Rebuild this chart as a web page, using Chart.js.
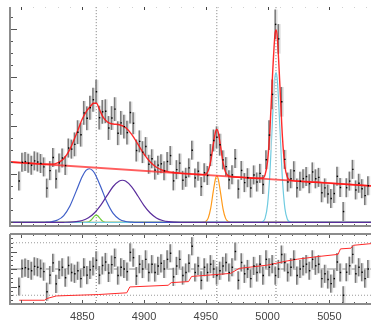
<!DOCTYPE html>
<html>
<head>
<meta charset="utf-8">
<script src="https://cdn.jsdelivr.net/npm/chart.js@4.4.0/dist/chart.umd.min.js"></script>
<style>
  html, body { margin: 0; padding: 0; background: #fff; width: 375px; height: 322px; overflow: hidden; }
  #fit { position: absolute; left: 0; top: 0; }
  #resid { position: absolute; left: 0; top: 230px; }
</style>
</head>
<body>
<canvas id="fit" width="375" height="230"></canvas>
<canvas id="resid" width="375" height="110"></canvas>
<script>
// --- Axis ranges / ticks ---
const X_MIN = 4791.5, X_MAX = 5083.7;
const X_TICKS = [4850, 4900, 4950, 5000, 5050];
const LINE_CENTERS = [4861.3, 4958.9, 5006.8];

// --- Binned spectrum (wavelength, flux, 1-sigma error) ---
const WAVE = [4799, 4801.5, 4804, 4806.5, 4809, 4811.5, 4814, 4816.5, 4819, 4821.5,
  4824, 4826.5, 4829, 4831.5, 4834, 4836.5, 4839, 4841.5, 4844, 4846.5,
  4849, 4851.5, 4854, 4856.5, 4859, 4861.5, 4864, 4866.5, 4869, 4871.5,
  4874, 4876.5, 4879, 4881.5, 4884, 4886.5, 4889, 4891.5, 4894, 4896.5,
  4899, 4901.5, 4904, 4906.5, 4909, 4911.5, 4914, 4916.5, 4919, 4921.5,
  4924, 4926.5, 4929, 4931.5, 4934, 4936.5, 4939, 4941.5, 4944, 4946.5,
  4949, 4951.5, 4954, 4956.5, 4959, 4961.5, 4964, 4966.5, 4969, 4971.5,
  4974, 4976.5, 4979, 4981.5, 4984, 4986.5, 4989, 4991.5, 4994, 4996.5,
  4999, 5001.5, 5004, 5006.5, 5009, 5011.5, 5014, 5016.5, 5019, 5021.5,
  5024, 5026.5, 5029, 5031.5, 5034, 5036.5, 5039, 5041.5, 5044, 5046.5,
  5049, 5051.5, 5054, 5056.5, 5059, 5061.5, 5064, 5066.5, 5069, 5071.5,
  5074, 5076.5, 5079, 5081.5];

const FLUX = [0.857, 1.243, 1.258, 1.225, 1.182, 1.273, 1.250, 1.219, 1.148, 0.709,
  1.071, 1.342, 0.899, 1.230, 1.333, 1.175, 1.539, 1.516, 1.615, 1.867,
  1.815, 2.267, 2.155, 2.374, 2.539, 2.705, 2.167, 2.289, 2.301, 1.954,
  2.160, 2.344, 1.846, 2.060, 1.982, 1.858, 2.274, 2.052, 1.487, 1.677,
  1.454, 1.569, 1.202, 1.316, 1.082, 1.184, 1.212, 1.066, 1.260, 1.382,
  0.859, 1.091, 1.227, 0.870, 0.933, 1.128, 1.494, 0.920, 1.059, 0.740,
  1.029, 0.970, 1.394, 1.695, 1.761, 1.608, 1.294, 1.154, 0.880, 0.983,
  1.321, 0.690, 1.075, 0.823, 0.924, 0.711, 0.982, 0.835, 1.014, 0.784,
  1.297, 1.807, 2.650, 4.100, 3.800, 2.497, 1.304, 0.834, 0.903, 1.069,
  0.713, 0.852, 0.905, 0.948, 0.801, 1.044, 0.901, 0.931, 0.613, 0.713,
  0.586, 0.493, 0.596, 0.953, 0.721, 0.223, 0.718, 0.854, 1.097, 0.671,
  0.809, 0.697, 0.554, 0.759];

const FLUX_ERR = [0.19, 0.19, 0.19, 0.19, 0.19, 0.19, 0.19, 0.19, 0.19, 0.19,
  0.19, 0.19, 0.19, 0.19, 0.19, 0.19, 0.19, 0.19, 0.24, 0.24,
  0.24, 0.24, 0.24, 0.24, 0.24, 0.24, 0.24, 0.24, 0.24, 0.24,
  0.24, 0.24, 0.24, 0.24, 0.24, 0.24, 0.22, 0.22, 0.22, 0.22,
  0.22, 0.19, 0.19, 0.19, 0.19, 0.19, 0.19, 0.19, 0.19, 0.19,
  0.19, 0.19, 0.19, 0.19, 0.19, 0.19, 0.19, 0.19, 0.19, 0.19,
  0.19, 0.19, 0.22, 0.22, 0.22, 0.22, 0.19, 0.19, 0.19, 0.19,
  0.19, 0.19, 0.19, 0.19, 0.19, 0.19, 0.19, 0.19, 0.19, 0.19,
  0.19, 0.30, 0.30, 0.30, 0.30, 0.30, 0.19, 0.19, 0.19, 0.19,
  0.19, 0.19, 0.19, 0.19, 0.19, 0.19, 0.19, 0.19, 0.19, 0.19,
  0.19, 0.19, 0.19, 0.19, 0.19, 0.19, 0.19, 0.19, 0.19, 0.19,
  0.19, 0.19, 0.19, 0.19];

// --- Normalised residuals (bottom panel) ---
const RESID = [-2.0, 0.05, 0.15, 0.0, -0.2, 0.3, 0.2, 0.05, -0.3, -2.6,
  -0.7, 0.7, -1.7, -0.1, 0.2, -1.0, 0.4, -0.4, -0.55, -0.2,
  -1.1, 0.2, -0.7, -0.1, 0.3, 1.0, -0.7, 0.4, 0.8, -0.45,
  0.5, 1.3, -0.75, 0.2, 0.0, -0.3, 1.9, 1.3, -0.8, 0.55,
  0.0, 1.1, -0.4, 0.55, -0.4, 0.35, 0.65, 0.0, 1.1, 1.8,
  -0.9, 0.35, 1.1, -0.75, -0.4, 0.65, 2.6, -0.4, 0.35, -1.3,
  0.2, -0.4, 0.55, 0.0, -0.75, -0.2, 0.35, 0.75, -0.4, 0.2,
  2.0, -1.3, 0.75, -0.55, 0.0, -1.1, 0.35, -0.4, 0.55, -0.75,
  1.1, 0.2, 0.55, -0.75, 0.0, 1.65, 0.75, -0.4, 0.2, 1.1,
  -0.75, 0.0, 0.3, 0.55, -0.2, 1.1, 0.37, 0.55, -1.1, -0.55,
  -1.2, -1.67, -1.1, 0.8, -0.4, -3.0, -0.37, 0.37, 1.67, -0.55,
  0.2, -0.37, -1.1, 0.0];
const RESID_ERR = 1;

// --- Cumulative curve drawn in the residual panel [wave, value] ---
const CUMULATIVE = [[4799, -3.57], [4819.5, -3.57], [4821, -3.39], [4829, -3.08], [4845, -3.0],
  [4863, -2.92], [4886, -2.72], [4888.5, -2.05], [4919.5, -1.86], [4922, -1.56],
  [4936, -1.44], [4938.5, -0.85], [4970, -0.5], [4977, 0.07], [4984, 0.18],
  [5000, 0.45], [5015, 0.9], [5024, 1.12], [5040, 1.41], [5057, 1.67],
  [5059, 2.3], [5067.5, 2.38], [5069.5, 2.71], [5083.7, 2.9]];

// --- Fit: total model, continuum and line components [wave, flux] ---
const MODEL = [[4791.5, 1.250], [4800, 1.236], [4810, 1.219], [4815, 1.210], [4820, 1.204],
  [4825, 1.205], [4830, 1.232], [4835, 1.318], [4840, 1.511], [4845, 1.814],
  [4850, 2.139], [4854, 2.323], [4856.5, 2.398], [4859, 2.467], [4861.5, 2.465],
  [4864, 2.335], [4866.5, 2.193], [4869, 2.109], [4871.5, 2.062], [4875, 2.036],
  [4880, 2.022], [4885, 1.965], [4890, 1.822], [4895, 1.620], [4900, 1.414],
  [4905, 1.251], [4910, 1.141], [4915, 1.079], [4920, 1.045], [4925, 1.028],
  [4930, 1.015], [4940, 0.998], [4945, 0.990], [4948, 0.988], [4950, 1.001],
  [4952, 1.071], [4954, 1.273], [4956, 1.608], [4958, 1.890], [4959, 1.926],
  [4960, 1.870], [4962, 1.561], [4964, 1.227], [4966, 1.036], [4968, 0.968],
  [4970, 0.950], [4980, 0.931], [4990, 0.914], [4996, 0.919], [4998, 0.988],
  [5000, 1.269], [5002, 1.969], [5004, 3.05], [5006, 3.897], [5007, 3.986],
  [5008, 3.783], [5010, 2.82], [5012, 1.774], [5014, 1.161], [5016, 0.934],
  [5018, 0.876], [5020, 0.863], [5040, 0.829], [5060, 0.795], [5083.7, 0.755]];

const CONTINUUM = [[4791.5, 1.25], [5083.7, 0.755]];

const HB_BROAD1 = [[4791.5, 0], [4815, 0], [4820, 0.002], [4825, 0.012], [4830, 0.047],
  [4835, 0.141], [4840, 0.339], [4845, 0.641], [4850, 0.949], [4853, 1.075],
  [4855.7, 1.11], [4858, 1.082], [4860, 1.016], [4865, 0.732], [4870, 0.415],
  [4875, 0.185], [4880, 0.065], [4885, 0.018], [4890, 0.004], [4895, 0], [5083.7, 0]];

const HB_BROAD2 = [[4791.5, 0], [4830, 0], [4835, 0.001], [4840, 0.004], [4845, 0.014],
  [4850, 0.039], [4855, 0.095], [4860, 0.198], [4865, 0.356], [4870, 0.553],
  [4875, 0.742], [4880, 0.857], [4882.5, 0.872], [4885, 0.855], [4890, 0.735],
  [4895, 0.545], [4900, 0.348], [4905, 0.193], [4910, 0.092], [4915, 0.038],
  [4920, 0.013], [4925, 0.004], [4930, 0.001], [4935, 0], [5083.7, 0]];

const HB_NARROW = [[4791.5, 0], [4852, 0], [4854, 0.004], [4856, 0.022], [4858, 0.071],
  [4860, 0.134], [4861.3, 0.15], [4862.5, 0.136], [4864, 0.091], [4866, 0.033],
  [4868, 0.007], [4870, 0.001], [4872, 0], [5083.7, 0]];

const OIII_4959 = [[4791.5, 0], [4946, 0], [4948, 0.003], [4950, 0.020], [4952, 0.093],
  [4954, 0.298], [4956, 0.637], [4958, 0.922], [4959, 0.96], [4960, 0.905],
  [4962, 0.600], [4964, 0.269], [4966, 0.082], [4968, 0.017], [4970, 0.002],
  [4972, 0], [5083.7, 0]];

const OIII_5007 = [[4791.5, 0], [4994, 0], [4996, 0.015], [4998, 0.088], [5000, 0.372],
  [5002, 1.075], [5004, 2.16], [5006, 3.01], [5007, 3.10], [5008, 2.90],
  [5010, 1.94], [5012, 0.897], [5014, 0.288], [5016, 0.064], [5018, 0.010],
  [5020, 0.001], [5022, 0], [5083.7, 0]];

// --- helpers ---
const pts = pairs => pairs.map(([x, y]) => ({ x, y }));

function curve(pairs, color, width, extra) {
  return Object.assign({
    type: 'line', data: pts(pairs), borderColor: color, borderWidth: width,
    pointRadius: 0, cubicInterpolationMode: 'monotone', fill: false,
  }, extra || {});
}

function errorBars(values, errs, color, thickness) {
  return {
    type: 'bar',
    data: WAVE.map((w, i) => {
      const e = Array.isArray(errs) ? errs[i] : errs;
      return { x: w, y: [values[i] - e, values[i] + e] };
    }),
    backgroundColor: color, borderWidth: 0, barThickness: thickness,
  };
}

function markers(values) {
  return {
    type: 'scatter', data: WAVE.map((w, i) => ({ x: w, y: values[i] })),
    pointStyle: 'rect', pointRadius: 1, backgroundColor: '#000', borderWidth: 0,
  };
}

function vLines(yLo, yHi) {
  return LINE_CENTERS.map(c => ({
    type: 'line', data: [{ x: c, y: yLo }, { x: c, y: yHi }],
    borderColor: '#7a7a7a', borderWidth: 1, borderDash: [1, 2], pointRadius: 0,
  }));
}

function hLine(v, color, dash) {
  return {
    type: 'line', data: [{ x: X_MIN, y: v }, { x: X_MAX, y: v }],
    borderColor: color, borderWidth: 1, borderDash: dash || [], pointRadius: 0,
  };
}

// --- axis frame with inward ticks ---
const framePlugin = {
  id: 'frame',
  afterDraw(chart, args, o) {
    const { ctx, chartArea: a, scales: { x, y } } = chart;
    const seg = (x1, y1, x2, y2) => { ctx.beginPath(); ctx.moveTo(x1, y1); ctx.lineTo(x2, y2); ctx.stroke(); };
    ctx.save();
    ctx.lineWidth = 1;
    for (let v = 4800; v <= 5080; v += 10) {
      const px = Math.round(x.getPixelForValue(v)) + 0.5;
      const major = v % 50 === 0;
      ctx.strokeStyle = '#555';
      seg(px, a.bottom, px, a.bottom - (major ? 4 : 2));
      if (o.topLine) {
        seg(px, a.top, px, a.top + (major ? 4 : 2));
      } else {
        ctx.strokeStyle = major ? '#444' : '#d0d0d0';
        seg(px, a.top, px, a.top + (major ? 3 : 1));
      }
    }
    ctx.strokeStyle = '#555';
    o.yTicks.forEach(v => {
      const py = Math.round(y.getPixelForValue(v)) + 0.5;
      seg(a.left, py, a.left + (o.yMajor.includes(v) ? 7 : 3), py);
    });
    ctx.strokeStyle = '#8c8c8c';
    ctx.lineWidth = 2;
    seg(a.left, a.top, a.left, a.bottom + 1);
    seg(a.left, a.bottom, a.right, a.bottom);
    if (o.topLine) seg(a.left, a.top, a.right, a.top);
    ctx.restore();
  }
};

const TOP_Y_TICKS = [];
for (let v = 0; v <= 4.25; v += 0.25) TOP_Y_TICKS.push(+v.toFixed(2));
const BOT_Y_TICKS = [];
for (let v = -3.5; v <= 3.5; v += 0.5) BOT_Y_TICKS.push(v);

Chart.defaults.font.family = "'Liberation Sans', Arial, sans-serif";

// --- Top panel: spectrum + fit ---
new Chart(document.getElementById('fit'), {
  type: 'scatter',
  data: {
    datasets: [
      markers(FLUX),
      curve(MODEL, 'rgba(255, 20, 20, 0.9)', 1.4),
      curve(CONTINUUM, 'rgba(255, 40, 40, 0.75)', 1.8, { cubicInterpolationMode: 'default', tension: 0 }),
      errorBars(FLUX, FLUX_ERR, '#7a7a7a', 0.9),
      errorBars(FLUX, FLUX_ERR, '#dedede', 1.6),
      curve(HB_BROAD2, '#5a2d9c', 1.2),
      curve(HB_BROAD1, '#3f5fc8', 1.2),
      curve(OIII_5007, '#6fcbe0', 1.2),
      curve(OIII_4959, '#ff9a1a', 1.2),
      curve(HB_NARROW, '#6ccc3a', 1.2),
      ...vLines(-0.1, 4.5),
    ],
  },
  options: {
    responsive: false, animation: false, events: [], devicePixelRatio: 1,
    layout: { padding: { left: 10, right: 0, top: 7, bottom: 3 } },
    scales: {
      x: { type: 'linear', min: X_MIN, max: X_MAX, offset: false, display: false },
      y: { type: 'linear', min: -0.076, max: 4.46, display: false },
    },
    plugins: {
      legend: { display: false }, tooltip: { enabled: false },
      frame: { topLine: false, yTicks: TOP_Y_TICKS, yMajor: [1, 2, 3, 4] },
    },
  },
  plugins: [framePlugin],
});

// --- Bottom panel: residuals ---
new Chart(document.getElementById('resid'), {
  type: 'scatter',
  data: {
    datasets: [
      markers(RESID),
      curve(CUMULATIVE, '#ff2a2a', 1, { cubicInterpolationMode: 'default', tension: 0 }),
      errorBars(RESID, RESID_ERR, '#7a7a7a', 0.9),
      errorBars(RESID, RESID_ERR, '#dedede', 1.6),
      hLine(0, '#8a8a8a'),
      hLine(3, '#9a9a9a', [1, 2]),
      hLine(-3, '#9a9a9a', [1, 2]),
      ...vLines(-4, 4),
    ],
  },
  options: {
    responsive: false, animation: false, events: [], devicePixelRatio: 1,
    layout: { padding: { left: 10, right: 0, top: 2.3, bottom: 10.8 } },
    scales: {
      x: {
        type: 'linear', min: X_MIN, max: X_MAX, offset: false,
        grid: { display: false, drawTicks: false }, border: { display: false },
        afterBuildTicks: s => { s.ticks = X_TICKS.map(v => ({ value: v })); },
        ticks: {
          padding: 6, autoSkip: false, maxRotation: 0, color: '#444',
          font: { size: 11 }, callback: v => String(v),
        },
      },
      y: { type: 'linear', min: -4, max: 4, display: false },
    },
    plugins: {
      legend: { display: false }, tooltip: { enabled: false },
      frame: { topLine: true, yTicks: BOT_Y_TICKS, yMajor: [-2, 0, 2] },
    },
  },
  plugins: [framePlugin],
});
</script>
</body>
</html>
